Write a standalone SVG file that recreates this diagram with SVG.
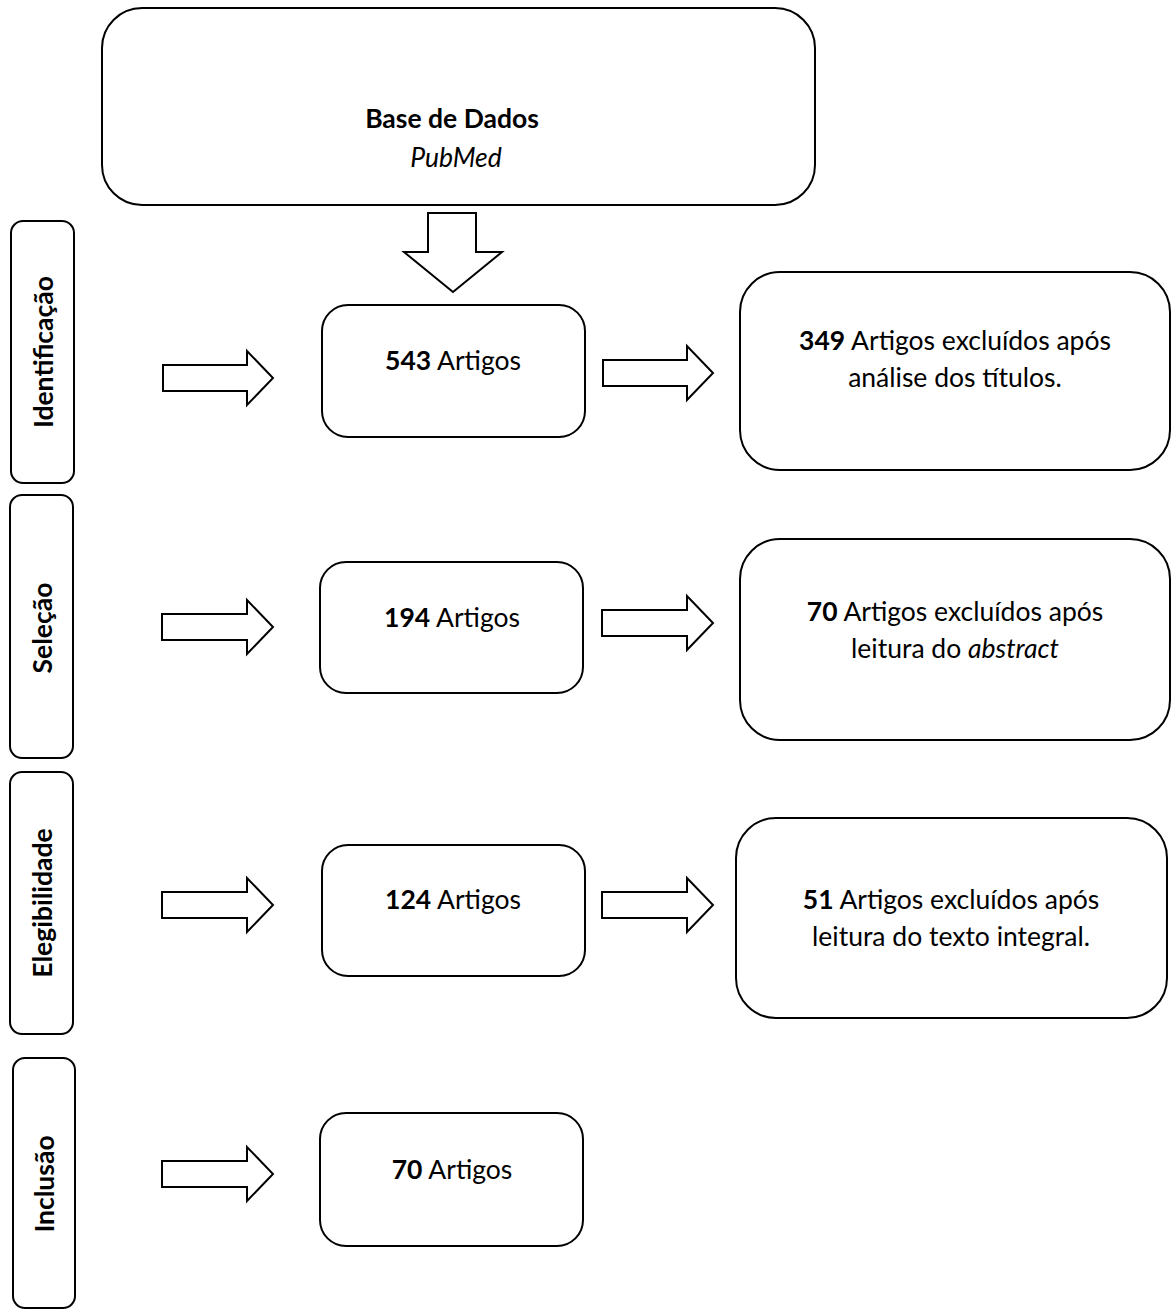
<svg xmlns="http://www.w3.org/2000/svg" width="1171" height="1310" viewBox="0 0 1171 1310">
<style>
.box{fill:#fff;stroke:#000;stroke-width:2}
.arr{fill:#fff;stroke:#000;stroke-width:2;stroke-linejoin:miter}
text{font-family:Lato,"Open Sans","Liberation Sans",sans-serif;font-size:26.5px;fill:#000}
.c{text-anchor:middle}
.b{font-weight:bold}
.i{font-style:italic}
</style>
<rect width="1171" height="1310" fill="#fff"/>
<g id="labels">
<g id="lbl-identificacao"><rect class="box" x="11" y="221" width="63" height="262" rx="12"/><text class="c b" transform="translate(43,352) rotate(-90)" y="9.5">Identificação</text></g>
<g id="lbl-selecao"><rect class="box" x="10" y="495" width="63" height="263" rx="12"/><text class="c b" transform="translate(42,628) rotate(-90)" y="9.5">Seleção</text></g>
<g id="lbl-elegibilidade"><rect class="box" x="10" y="772" width="63" height="262" rx="12"/><text class="c b" transform="translate(42,903) rotate(-90)" y="9.5">Elegibilidade</text></g>
<g id="lbl-inclusao"><rect class="box" x="13" y="1058" width="62" height="250" rx="12"/><text class="c b" transform="translate(44,1184) rotate(-90)" y="9.5">Inclusão</text></g>
</g>
<g id="n-base"><rect class="box" x="102" y="8" width="713" height="197" rx="40"/><text class="c b" x="452" y="128">Base de Dados</text><text class="c i" x="456" y="167">PubMed</text></g>
<g id="n-543"><rect class="box" x="322" y="305" width="263" height="132" rx="26"/><text class="c" x="453" y="370"><tspan class="b">543</tspan> Artigos</text></g>
<g id="n-349"><rect class="box" x="740" y="272" width="430" height="198" rx="40"/><text class="c" x="955" y="350"><tspan class="b">349</tspan> Artigos excluídos após</text><text class="c" x="955" y="387">análise dos títulos.</text></g>
<g id="n-194"><rect class="box" x="320" y="562" width="263" height="131" rx="26"/><text class="c" x="452" y="627"><tspan class="b">194</tspan> Artigos</text></g>
<g id="n-70x"><rect class="box" x="740" y="539" width="430" height="201" rx="40"/><text class="c" x="955" y="621"><tspan class="b">70</tspan> Artigos excluídos após</text><text class="c" x="955" y="658">leitura do <tspan class="i">abstract</tspan></text></g>
<g id="n-124"><rect class="box" x="322" y="845" width="263" height="131" rx="26"/><text class="c" x="453" y="909"><tspan class="b">124</tspan> Artigos</text></g>
<g id="n-51"><rect class="box" x="736" y="818" width="431" height="200" rx="40"/><text class="c" x="951" y="909"><tspan class="b">51</tspan> Artigos excluídos após</text><text class="c" x="951" y="946">leitura do texto integral.</text></g>
<g id="n-70"><rect class="box" x="320" y="1113" width="263" height="133" rx="26"/><text class="c" x="452" y="1179"><tspan class="b">70</tspan> Artigos</text></g>
<g id="connectors">
<polygon class="arr" points="428,213 476,213 476,252 502,252 453,292 404,252 428,252"/>
<polygon class="arr" points="163,365 247,365 247,351 273,378 247,405 247,391 163,391"/>
<polygon class="arr" points="603,360 687,360 687,346 713,373 687,400 687,386 603,386"/>
<polygon class="arr" points="162,614 247,614 247,600 273,627 247,654 247,640 162,640"/>
<polygon class="arr" points="602,610 687,610 687,596 713,623 687,650 687,636 602,636"/>
<polygon class="arr" points="162,892 247,892 247,878 273,905 247,932 247,918 162,918"/>
<polygon class="arr" points="602,892 687,892 687,878 713,905 687,932 687,918 602,918"/>
<polygon class="arr" points="162,1161 247,1161 247,1147 273,1174 247,1201 247,1187 162,1187"/>
</g>
</svg>
